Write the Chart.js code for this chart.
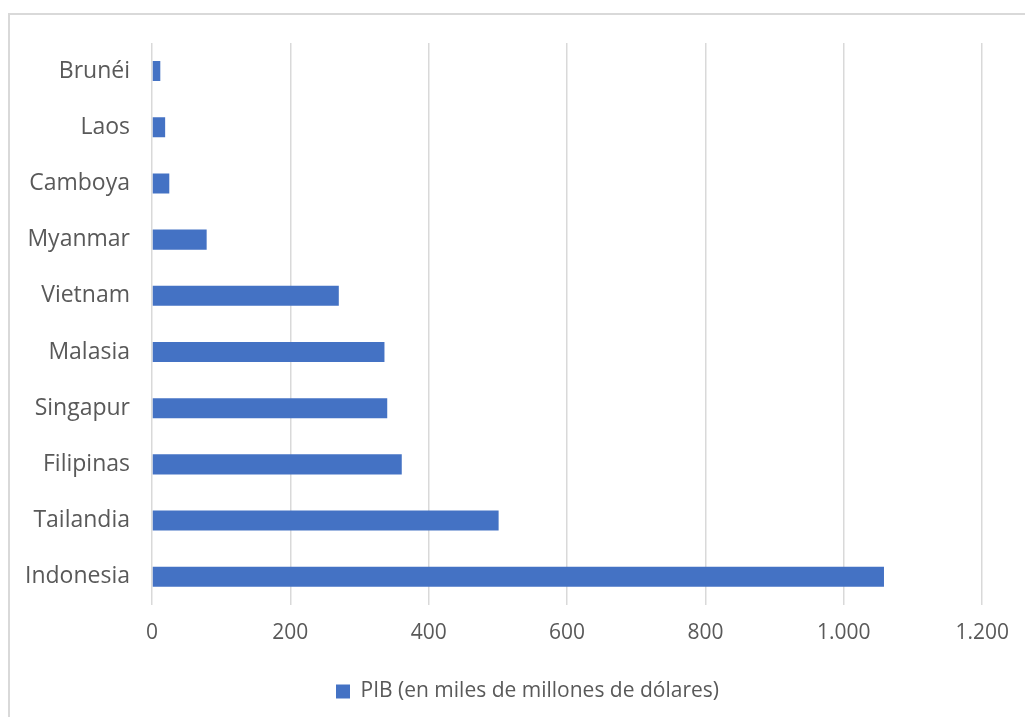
<!DOCTYPE html>
<html>
<head>
<meta charset="utf-8">
<script src="https://cdn.jsdelivr.net/npm/chart.js@4"></script>
<style>
    html, body { margin: 0; padding: 0; background: #ffffff; }
    #marco {
        position: absolute;
        left: 8px;
        top: 13px;
        width: 1030px;
        height: 720px;
        border-left: 2px solid #d9d9d9;
        border-top: 2px solid #d9d9d9;
    }
    #caja { position: absolute; left: 0; top: 0; width: 1025px; height: 717px; }
</style>
</head>
<body>
<div id="marco"></div>
<div id="caja"><canvas id="graficoPIB"></canvas></div>
<script>
const paises = ["Brunéi", "Laos", "Camboya", "Myanmar", "Vietnam", "Malasia", "Singapur", "Filipinas", "Tailandia", "Indonesia"];
const pib = [12, 19, 25, 79, 270, 336, 340, 361, 501, 1058];
const ticksX = [0, 200, 400, 600, 800, 1000, 1200];

const gris = "#595959";

// la leyenda del original esta un poco a la derecha del centro
const moverLeyenda = {
    id: "moverLeyenda",
    afterUpdate(chart) {
        const ley = chart.legend;
        if (ley) {
            ley.left += 72;
            ley.width = ley.right - ley.left;
        }
    }
};

new Chart(document.getElementById("graficoPIB"), {
    type: "bar",

    data: {
        labels: paises,
        datasets: [{
            label: "PIB (en miles de millones de dólares)",
            data: pib,
            backgroundColor: "#4472c4",
            barPercentage: 0.357,
            categoryPercentage: 1.0
        }]
    },

    plugins: [moverLeyenda],

    options: {
        indexAxis: "y",
        responsive: true,
        maintainAspectRatio: false,
        animation: false,
        layout: {
            padding: { top: 43, right: 42, bottom: 5, left: 0 }
        },
        plugins: {
            legend: {
                position: "bottom",
                labels: {
                    color: gris,
                    font: { family: "Open Sans", size: 21 },
                    boxWidth: 14,
                    boxHeight: 14,
                    padding: 19
                }
            },
            tooltip: { enabled: false }
        },

        scales: {
            x: {
                min: 0,
                max: 1200,
                afterBuildTicks: (scale) => {
                    scale.ticks = ticksX.map(v => ({ value: v }));
                },
                ticks: {
                    color: gris,
                    font: { family: "Open Sans", size: 21 },
                    padding: 16,
                    callback: (v) => v.toLocaleString("de-DE")
                },
                grid: {
                    color: "#d9d9d9",
                    lineWidth: 1.5,
                    drawTicks: false
                },
                border: { display: false }
            },

            y: {
                afterFit: (scale) => { scale.width = 152; },
                ticks: {
                    color: gris,
                    font: { family: "Open Sans", size: 23 },
                    padding: 22
                },
                grid: { display: false, drawTicks: false },
                border: { display: false }
            }
        }
    }
});
</script>
</body>
</html>
